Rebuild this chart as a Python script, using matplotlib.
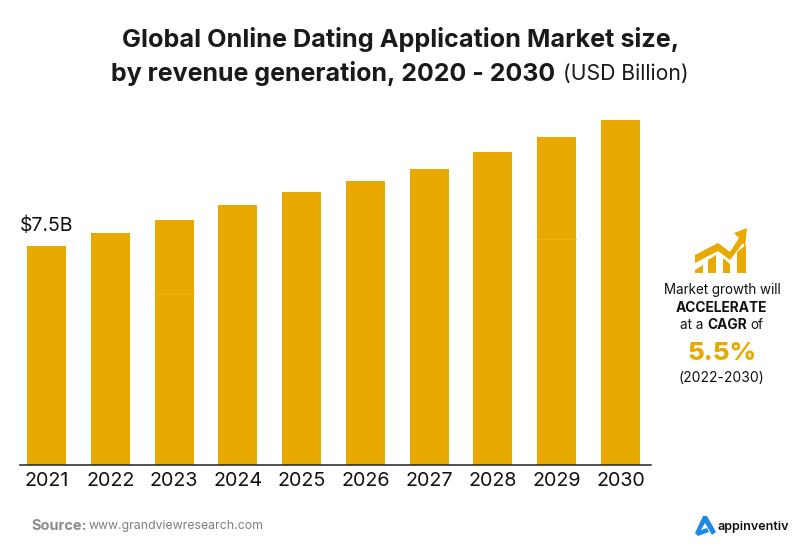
import matplotlib
matplotlib.use("Agg")
import matplotlib.pyplot as plt
from matplotlib.patches import Polygon

plt.rcParams['font.family'] = ['Inter', 'DejaVu Sans']

years = ['2021', '2022', '2023', '2024', '2025', '2026', '2027', '2028', '2029', '2030']
revenue = [7.5, 7.95, 8.4, 8.9, 9.34, 9.72, 10.13, 10.71, 11.22, 11.81]
first_label = '$7.5B'
gold = '#e8a900'

W, H = 800, 549
fig = plt.figure(figsize=(W / 100, H / 100), dpi=100, facecolor='white')

# axe principal, place en pixels
ax = fig.add_axes([20 / W, (H - 465) / H, 631 / W, 365 / H])
x = list(range(len(years)))
ax.bar(x, revenue, width=39 / 63.8, color=gold)
ax.set_xlim(-26.5 / 63.8, 9 + 30.5 / 63.8)
ax.set_ylim(0, 365 / 29.2)
ax.set_xticks(x)
ax.set_xticklabels(years, fontsize=14.2, color='#111111')
ax.tick_params(axis='x', length=0, pad=5)
ax.set_yticks([])
for s in ['top', 'left', 'right']:
    ax.spines[s].set_visible(False)
ax.spines['bottom'].set_linewidth(1.1)
ax.spines['bottom'].set_color('#222222')
ax.text(0, revenue[0] + 0.38, first_label.replace('$', r'\$'), ha='center', va='bottom',
        fontsize=14, color='#111111')


def px_text(px, py, s, **kw):
    kw.setdefault('va', 'center')
    kw.setdefault('ha', 'center')
    kw.setdefault('color', '#111111')
    return fig.text(px / W, 1 - py / H, s, **kw)


# titre
px_text(400.5, 39.5, 'Global Online Dating Application Market size,', fontsize=18.15, fontweight='bold', color='#1a1a1a')
px_text(111, 73, 'by revenue generation, 2020 - 2030', ha='left', fontsize=18, fontweight='bold', color='#1a1a1a')
px_text(563, 74, '(USD Billion)', ha='left', fontsize=15.2, color='#1a1a1a')

# bloc de droite
px_text(722, 290, 'Market growth will', fontsize=9.7)
px_text(721.5, 308, 'ACCELERATE', fontsize=9.9, fontweight='bold')
px_text(692, 325, 'at a', ha='center', fontsize=9.7)
px_text(727, 325, 'CAGR', ha='center', fontsize=9.9, fontweight='bold')
px_text(757, 325, 'of', ha='center', fontsize=9.7)
px_text(722.5, 353, '5.5%', fontsize=18.6, fontweight='heavy', color=gold)
px_text(721, 378, '(2022-2030)', fontsize=10)

# source
px_text(31, 525.5, 'Source:', ha='left', fontsize=10.4, fontweight='bold', color='#8a8a8a')
px_text(89, 526.5, 'www.grandviewresearch.com', ha='left', fontsize=8.85, color='#7f7f7f')
px_text(717, 527, 'appinventiv', ha='left', fontsize=9, fontweight='semibold', color='#111111')

# icone et logo, en coordonnees pixels
over = fig.add_axes([0, 0, 1, 1], facecolor='none')
over.set_xlim(0, W)
over.set_ylim(H, 0)
over.axis('off')
icon_bars = [[(695, 273), (695, 270), (703, 265), (703, 273)],
             [(708, 273), (708, 260), (716, 255), (716, 273)],
             [(723, 273), (723, 258), (730, 264), (730, 273)],
             [(737, 273), (737, 252), (746, 245), (746, 273)]]
for pts in icon_bars:
    over.add_patch(Polygon(pts, color=gold, lw=0))
arrow = [(695, 255), (718, 243), (730, 252), (739, 238), (734, 233), (747, 228),
         (745, 247), (743, 243), (730, 260), (718, 251), (695, 263)]
over.add_patch(Polygon(arrow, color=gold, lw=0))
logo = [(695, 533), (703, 516), (707, 516), (716, 532), (712, 535), (705, 523),
        (701, 530), (707, 528), (709, 532), (698, 536)]
over.add_patch(Polygon(logo, color='#1e88e5', lw=0))

# fines coutures visibles dans deux barres
over.plot([155, 194], [294, 294], color='#f2b416', lw=0.6)
over.plot([537, 576], [239, 239], color='#f2b416', lw=0.6)

fig.savefig('out.png', dpi=100)
